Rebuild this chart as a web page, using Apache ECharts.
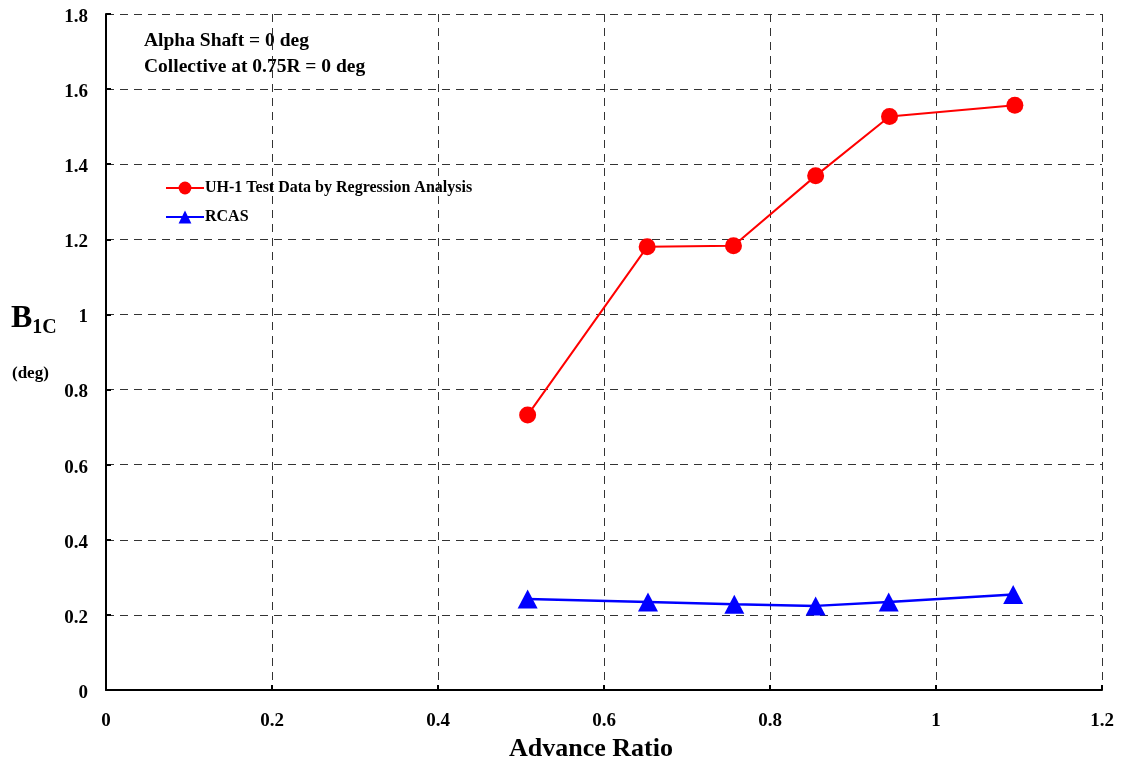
<!DOCTYPE html>
<html><head><meta charset="utf-8">
<script src="https://cdn.jsdelivr.net/npm/echarts@6/dist/echarts.min.js"></script>
<style>html,body{margin:0;padding:0;background:#fff}#c{width:1122px;height:767px}</style>
</head><body><div id="c"></div>
<script>
var testX = [0.508, 0.652, 0.756, 0.855, 0.944, 1.095];
var testY = [0.732, 1.180, 1.183, 1.369, 1.527, 1.557];
var rcasX = [0.508, 0.653, 0.757, 0.855, 0.943, 1.093];
var rcasY = [0.242, 0.234, 0.228, 0.224, 0.234, 0.254];
var seriesNames = ['UH-1 Test Data by Regression Analysis', 'RCAS'];
var notes = ['Alpha Shaft = 0 deg', 'Collective at 0.75R = 0 deg'];

function pairs(xs, ys){ return xs.map(function(x,i){ return [x, ys[i]]; }); }
var F = '"Liberation Serif","Times New Roman",serif';
var chart = echarts.init(document.getElementById('c'));
chart.setOption({
  animation: false,
  backgroundColor: '#fff',
  grid: {left: 106, right: 20, top: 14, bottom: 77},
  xAxis: {
    type: 'value', min: 0, max: 1.2, interval: 0.2,
    axisLine: {show: true, onZero: false, lineStyle: {color: '#000', width: 2}},
    axisTick: {show: true, inside: true, length: 5, lineStyle: {color: '#000', width: 2}},
    axisLabel: {color: '#000', fontFamily: F, fontWeight: 'bold', fontSize: 19, margin: 22},
    splitLine: {show: true, lineStyle: {color: '#333', type: [8, 6], width: 1}}
  },
  yAxis: {
    type: 'value', min: 0, max: 1.8, interval: 0.2,
    axisLine: {show: true, onZero: false, lineStyle: {color: '#000', width: 2}},
    axisTick: {show: true, inside: true, length: 5, lineStyle: {color: '#000', width: 2}},
    axisLabel: {color: '#000', fontFamily: F, fontWeight: 'bold', fontSize: 19, margin: 18, lineHeight: 30, verticalAlign: 'top', padding: [-12,0,0,0]},
    splitLine: {show: true, lineStyle: {color: '#333', type: [8, 6], width: 1}}
  },
  legend: {
    orient: 'vertical', left: 160, top: 175, itemGap: 13,
    itemWidth: 38, itemHeight: 16,
    textStyle: {color: '#000', fontFamily: F, fontWeight: 'bold', fontSize: 16, padding: [0,0,0,-4]},
    data: seriesNames
  },
  series: [
    {name: seriesNames[0], type: 'line', data: pairs(testX, testY),
     symbol: 'circle', symbolSize: 17,
     itemStyle: {color: '#ff0000'}, lineStyle: {color: '#ff0000', width: 2}},
    {name: seriesNames[1], type: 'line', data: pairs(rcasX, rcasY),
     symbol: 'triangle', symbolSize: [20, 19],
     itemStyle: {color: '#0000ff'}, lineStyle: {color: '#0000ff', width: 2.5}}
  ],
  graphic: [
    {type: 'text', left: 144, top: 31, style: {text: notes[0], fill: '#000', font: 'bold 19.5px ' + F}},
    {type: 'text', left: 144, top: 57, style: {text: notes[1], fill: '#000', font: 'bold 19.5px ' + F}},
    {type: 'text', left: 11, top: 303, style: {
      text: '{b|B}{s|1C}', rich: {
        b: {fontFamily: F, fontWeight: 'bold', fontSize: 32, fill: '#000', verticalAlign: 'bottom'},
        s: {fontFamily: F, fontWeight: 'bold', fontSize: 20, fill: '#000', verticalAlign: 'bottom', padding: [0,0,-3,0]}
      }}},
    {type: 'text', left: 12, top: 365, style: {text: '(deg)', fill: '#000', font: 'bold 17px ' + F}},
    {type: 'text', left: 509, top: 736, style: {text: 'Advance Ratio', fill: '#000', font: 'bold 26px ' + F}}
  ]
});
</script></body></html>
